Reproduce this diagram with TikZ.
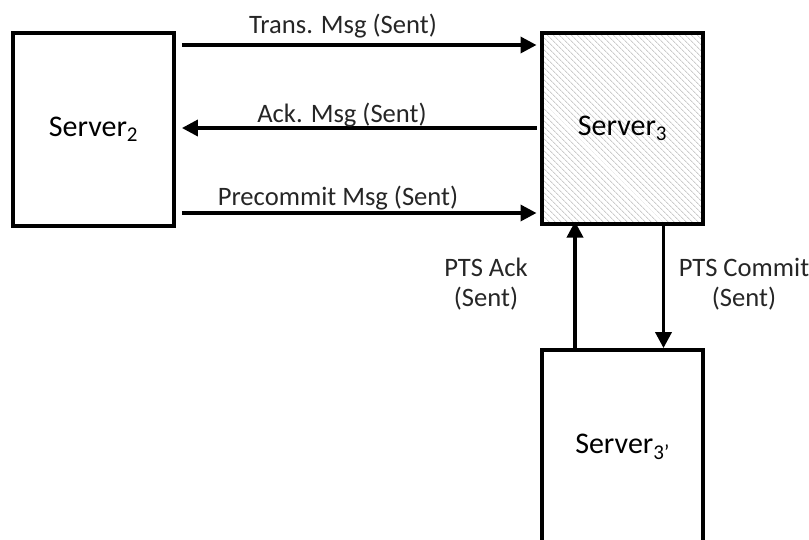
\documentclass[tikz,border=0pt]{standalone}
\usepackage{fontspec}
\setmainfont{Carlito}
\usetikzlibrary{arrows.meta,patterns.meta}
\begin{document}
\begin{tikzpicture}[x=1pt,y=-1pt,
  server/.style={draw=black,line width=3.8pt,minimum width=161pt,inner sep=0pt,
    font=\fontsize{30}{33}\selectfont},
  msg/.style={line width=3.5pt,-{Triangle[length=16pt,width=16pt]}},
  lbl/.style={font=\fontsize{26.6}{30}\selectfont,inner sep=0pt,text=black!85}]
\useasboundingbox (0,0) rectangle (809,539);
% servers
\node[server,minimum height=193pt] (s2) at (93.5,129.5) {Server\textsubscript{2}};
\node[server,minimum height=191pt,
  pattern={Lines[angle=-45,distance=4pt,line width=1pt]},pattern color=black!20] (s3) at (622.5,128.5) {};
\node[font=\fontsize{30}{33}\selectfont] (s3t) at (s3.center) {Server\textsubscript{3}};
\node[server,minimum height=194pt] (s3p) at (622.5,447) {Server\textsubscript{3’}};
% horizontal messages
\coordinate (a1) at (0,45);
\coordinate (a2) at (0,128);
\coordinate (a3) at (0,213);
\draw[msg] ([xshift=6pt]s2.east |- a1) -- ([xshift=-5pt]s3.west |- a1);
\draw[msg] ([xshift=-5pt]s3.west |- a2) -- ([xshift=6pt]s2.east |- a2);
\draw[msg] ([xshift=6pt]s2.east |- a3) -- ([xshift=-5pt]s3.west |- a3);
\node[lbl,anchor=base] (l1) at (343,33) {Trans. Msg (Sent)};
\node[lbl,anchor=base] (l2) at (342,122) {Ack. Msg (Sent)};
\node[lbl,anchor=base] (l3) at (338,205) {Precommit Msg (Sent)};
% vertical messages
\coordinate (v1) at (575,0);
\coordinate (v2) at (663.5,0);
\draw[msg] (s3p.north -| v1) -- ([yshift=3pt]s3.south -| v1);
\draw[msg] (s3.south -| v2) -- (s3p.north -| v2);
\node[lbl,align=center,anchor=base] (l4) at (486,306) {PTS Ack\\(Sent)};
\node[lbl,align=center,anchor=base] (l5) at (744,306) {PTS Commit\\(Sent)};
\end{tikzpicture}
\end{document}
